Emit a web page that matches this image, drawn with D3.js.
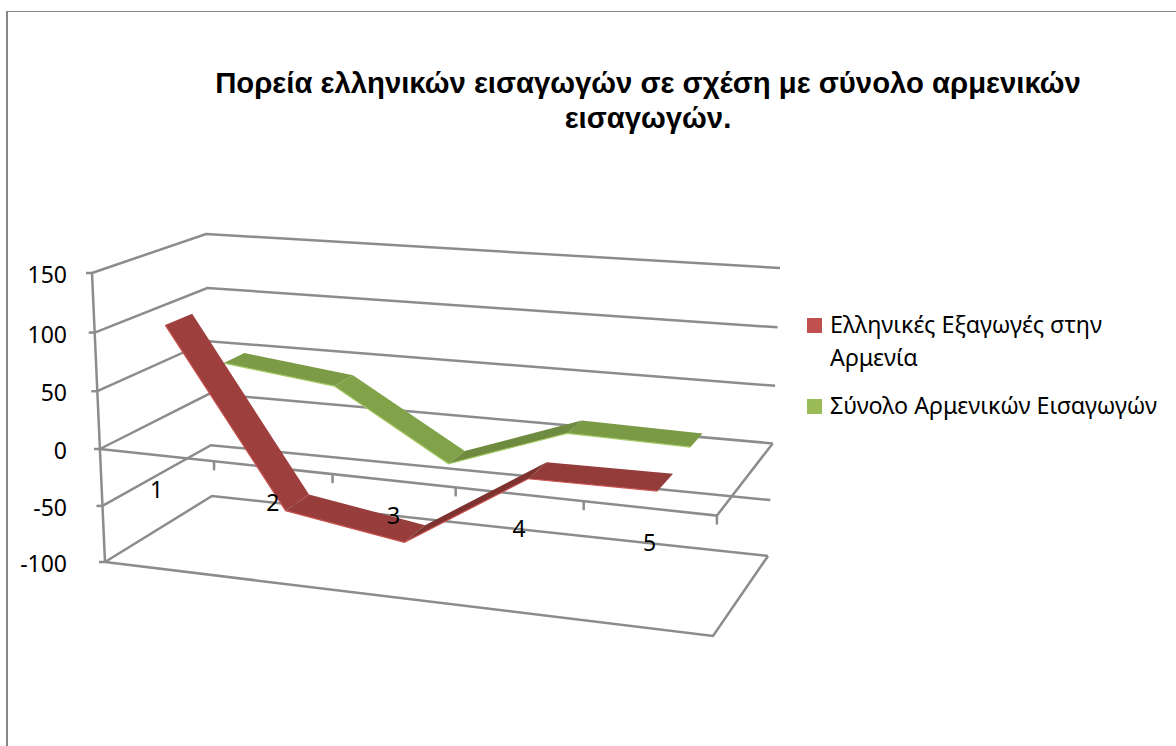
<!DOCTYPE html>
<html>
<head>
<meta charset="utf-8">
<script src="https://cdn.jsdelivr.net/npm/d3@7"></script>
<style>
    html, body { margin: 0; padding: 0; background: #fff; }
    svg { display: block; }
    .grid { stroke: #8c8c8c; stroke-width: 2.5; fill: none; }
    .label { font-family: "Noto Sans", sans-serif; font-size: 23px; fill: #000; }
    .legend { font-family: "Noto Sans", sans-serif; font-size: 23.3px; fill: #000; }
</style>
</head>
<body>
<div id="the_chart"></div>
<script>
var titleLines = ["Πορεία ελληνικών εισαγωγών σε σχέση με σύνολο αρμενικών", "εισαγωγών."];
var categories = [1, 2, 3, 4, 5];
var valueTicks = [-100, -50, 0, 50, 100, 150];
var seriesNames = ["Ελληνικές Εξαγωγές στην Αρμενία", "Σύνολο Αρμενικών Εισαγωγών"];
var greekExports = [106, -44, -60, 6, 7];
var armenianImports = [50, 38, -22, 15, 13];

var w = 1176, h = 746;

var svg = d3.select("#the_chart").append("svg")
    .attr("width", w)
    .attr("height", h);

// outer frame of the chart area, runs off the page on the right and bottom
svg.append("line")
    .attr("x1", 7).attr("x2", 7).attr("y1", 11).attr("y2", h)
    .attr("stroke", "#868686").attr("stroke-width", 2);
svg.append("line")
    .attr("x1", 6).attr("x2", w).attr("y1", 11.5).attr("y2", 11.5)
    .attr("stroke", "#868686").attr("stroke-width", 1);

// the box corners on screen, [value low, value high]
var frontLeft = [[105, 562], [92, 273]];
var backLeft = [[212, 496], [206, 234]];
var backRight = [[768, 556], [780, 268]];
var frontRight = [[713, 636], [723, 328]];

// things get bigger towards the viewer, b is how strong
function perspective(b) {
    return function (t) { return (1 - b) * t / (1 - b * t); };
}
var xscale = d3.scaleLinear().domain([0, categories.length]).range([0, 1]);
var vscale = d3.scaleLinear().domain([-100, 150]).range([0, 1]);
var xwarp = perspective(0.092), vwarp = perspective(0.037);

// category position (0..5), value, depth (0 front, 1 back) to pixels
function project(cat, value, depth) {
    var t = xwarp(xscale(cat)), v = vwarp(vscale(value));
    function corner(c) { return d3.interpolateArray(c[0], c[1])(v); }
    var front = d3.interpolateArray(corner(frontLeft), corner(frontRight))(t);
    var back = d3.interpolateArray(corner(backLeft), corner(backRight))(t);
    return d3.interpolateArray(front, back)(depth);
}

var line = d3.line();
function gridPath(points) {
    svg.append("path").attr("class", "grid").attr("d", line(points));
}

// walls: left side and back
valueTicks.forEach(function (v) {
    gridPath([project(0, v, 0), project(0, v, 1), project(5, v, 1)]);
    var p = project(0, v, 0);
    gridPath([[p[0] - 6, p[1]], p]);
});
// value axis
gridPath([project(0, -100, 0), project(0, 150, 0)]);
// floor
gridPath([project(0, -100, 0), project(5, -100, 0), project(5, -100, 1)]);
// category axis plane
gridPath([project(0, 0, 0), project(5, 0, 0), project(5, 0, 1)]);
d3.range(1, categories.length + 1).forEach(function (c) {
    var p = project(c, 0, 0);
    gridPath([p, [p[0], p[1] + 9]]);
});

// ribbons, red one in front
var shade = d3.scaleLinear().domain([-60, 0, 60]).range([-0.05, 0.1, 0.55]).clamp(true);
var series = [
    { values: armenianImports, top: "#7F9F48", edge: "#A6C965", near: 0.655, far: 0.85 },
    { values: greekExports, top: "#9A3E3C", edge: "#C9534F", near: 0.125, far: 0.375 }
];

series.forEach(function (s) {
    d3.pairs(s.values).forEach(function (pair, i) {
        var dv = pair[1] - pair[0];
        svg.append("path")
            .attr("d", line([
                project(i + 0.5, pair[0], s.near),
                project(i + 1.5, pair[1], s.near),
                project(i + 1.5, pair[1], s.far),
                project(i + 0.5, pair[0], s.far)
            ]) + "Z")
            .attr("fill", d3.color(s.top).darker(shade(dv)));
    });
    svg.append("path")
        .attr("d", line(s.values.map(function (v, i) { return project(i + 0.5, v, s.near); })))
        .attr("fill", "none")
        .attr("stroke", s.edge)
        .attr("stroke-width", 1.2);
});

// value labels
valueTicks.forEach(function (v) {
    var p = project(0, v, 0);
    svg.append("text").attr("class", "label")
        .attr("x", 67).attr("y", p[1] + 10)
        .attr("text-anchor", "end")
        .text(v);
});

// category labels
categories.forEach(function (c, i) {
    var p = project(i + 0.5, 0, 0);
    svg.append("text").attr("class", "label")
        .attr("x", p[0]).attr("y", p[1] + 43)
        .attr("text-anchor", "middle")
        .text(c);
});

// title
titleLines.forEach(function (t, i) {
    svg.append("text")
        .attr("x", 648).attr("y", 93 + i * 35)
        .attr("text-anchor", "middle")
        .style("font-family", "'Liberation Sans', Arial, sans-serif")
        .style("font-weight", "bold")
        .style("font-size", "29.3px")
        .text(t);
});

// legend
var legendColors = ["#C0504D", "#9BBB59"];
var legendRows = [
    { y: 318, lines: ["Ελληνικές Εξαγωγές στην", "Αρμενία"] },
    { y: 399, lines: [seriesNames[1]] }
];
legendRows.forEach(function (row, i) {
    svg.append("rect")
        .attr("x", 807).attr("y", row.y)
        .attr("width", 15).attr("height", 15)
        .attr("fill", legendColors[i]);
    row.lines.forEach(function (t, j) {
        svg.append("text").attr("class", "legend")
            .attr("x", 830).attr("y", row.y + 15 + j * 33)
            .text(t);
    });
});
</script>
</body>
</html>
